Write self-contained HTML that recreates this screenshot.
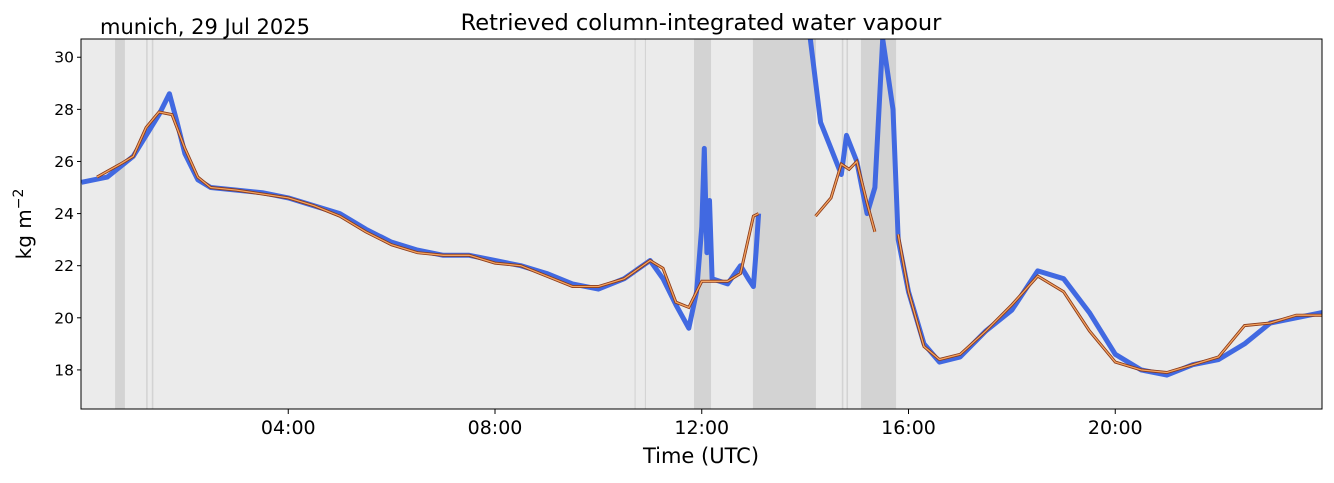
<!DOCTYPE html>
<html><head><meta charset="utf-8"><style>
body{margin:0;background:#fff;}
svg text{font-family:"DejaVu Sans","Liberation Sans",sans-serif;}
</style></head><body>
<svg id="chart" width="1334" height="478" xmlns="http://www.w3.org/2000/svg">
<text x="100" y="34" font-size="21">munich, 29 Jul 2025</text>
<text x="701" y="30" font-size="22.5" text-anchor="middle">Retrieved column-integrated water vapour</text>
<rect x="81" y="39" width="1241" height="370" fill="#ebebeb"/>
<defs><clipPath id="clip"><rect x="81" y="39" width="1241" height="370"/></clipPath></defs>
<g id="bands" clip-path="url(#clip)"></g>
<g id="series" clip-path="url(#clip)"></g>
<rect x="81" y="39" width="1241" height="370" fill="none" stroke="#000" stroke-width="1"/>
<g id="axes"></g>
<text x="701" y="463" font-size="21" text-anchor="middle">Time (UTC)</text>
<text transform="translate(31,224) rotate(-90)" font-size="20" text-anchor="middle">kg m<tspan dy="-8" font-size="14">−2</tspan></text>
</svg>
<script>
const bandStarts=[0.65,1.25,1.36,10.7,10.9,11.85,12.99,14.71,14.8,15.08];
const bandEnds=[0.84,1.28,1.39,10.72,10.92,12.18,14.21,14.74,14.83,15.76];
const blueT=[0,0.5,0.75,1,1.25,1.5,1.7,1.85,2,2.25,2.5,3,3.5,4,4.5,5,5.5,6,6.5,7,7.5,8,8.5,9,9.5,10,10.5,11,11.25,11.5,11.75,11.9,12,12.05,12.1,12.15,12.2,12.5,12.75,12.9,13,13.05,13.1,null,14.1,14.3,14.5,14.7,14.8,15,15.2,15.35,15.5,15.7,15.8,16,16.3,16.6,17,17.5,18,18.5,19,19.5,20,20.5,21,21.5,22,22.5,23,23.5,24];
const blueV=[25.2,25.4,25.8,26.2,27.0,27.8,28.6,27.5,26.3,25.3,25.0,24.9,24.8,24.6,24.3,24.0,23.4,22.9,22.6,22.4,22.4,22.2,22.0,21.7,21.3,21.1,21.5,22.2,21.5,20.5,19.6,21.0,23.5,26.5,22.5,24.5,21.5,21.3,22,21.5,21.2,22.5,24.0,null,30.7,27.5,26.5,25.5,27,26,24,25,30.7,28,23,21,19,18.3,18.5,19.5,20.3,21.8,21.5,20.2,18.6,18.0,17.8,18.2,18.4,19.0,19.8,20.0,20.2];
const orangeT=[0.3,0.75,1,1.25,1.5,1.75,2,2.25,2.5,3,4,4.5,5,5.5,6,6.5,7,7.5,8,8.5,9,9.5,10,10.5,11,11.25,11.5,11.75,12,12.5,12.75,13,13.1,null,14.2,14.5,14.7,14.85,15,15.2,15.35,null,15.8,16,16.3,16.6,17,17.5,18,18.5,19,19.5,20,20.5,21,21.5,22,22.5,23,23.5,24];
const orangeV=[25.4,25.9,26.2,27.3,27.9,27.8,26.5,25.4,25.0,24.9,24.6,24.3,23.9,23.3,22.8,22.5,22.4,22.4,22.1,22.0,21.6,21.2,21.2,21.5,22.2,21.9,20.6,20.4,21.4,21.4,21.7,23.9,24.0,null,23.9,24.6,25.9,25.7,26.0,24.4,23.3,null,23.2,21.0,18.9,18.4,18.6,19.5,20.5,21.6,21.0,19.5,18.3,18.0,17.9,18.2,18.5,19.7,19.8,20.1,20.1];
const yTicks=[18,20,22,24,26,28,30];
const xTicks=[4,8,12,16,20];
const xTickLabels=["04:00","08:00","12:00","16:00","20:00"];
const X=h=>81.5+h*(1240.5/24);
const Y=v=>409-(v-16.5)*(370/14.2);
const NS="http://www.w3.org/2000/svg";
function mk(tag,attrs,parent){const e=document.createElementNS(NS,tag);for(const k in attrs)e.setAttribute(k,attrs[k]);document.getElementById(parent).appendChild(e);return e;}
bandStarts.forEach((s,i)=>{
 const r=mk('rect',{x:X(s),y:39,width:Math.max(1,X(bandEnds[i])-X(s)),height:370,fill:'#d3d3d3'},'bands');
 
 
});
function paths(T,V){let segs=[],cur=[];T.forEach((t,i)=>{if(t===null||V[i]===null){if(cur.length)segs.push(cur);cur=[];}else cur.push(X(t).toFixed(1)+','+Y(V[i]).toFixed(1));});if(cur.length)segs.push(cur);return segs.map(s=>'M'+s.join('L')).join(' ');}
const b=mk('path',{d:paths(blueT,blueV),fill:'none',stroke:'#4169e1','stroke-width':5,'stroke-linejoin':'round'},'series');


const o1=mk('path',{d:paths(orangeT,orangeV),fill:'none',stroke:'#8b3a1a','stroke-width':3},'series');


const o2=mk('path',{d:paths(orangeT,orangeV),fill:'none',stroke:'#f4a460','stroke-width':1.3},'series');


yTicks.forEach(v=>{
 const l=mk('line',{x1:77,x2:81,y1:Y(v),y2:Y(v),stroke:'#000'},'axes');
 
 
 const t=mk('text',{x:74,y:Y(v)+5.5,'font-size':15.5,'text-anchor':'end'},'axes');
 t.textContent=v;
 
 
});
xTicks.forEach((h,i)=>{
 const l=mk('line',{x1:X(h),x2:X(h),y1:409,y2:414,stroke:'#000'},'axes');
 
 
 const t=mk('text',{x:X(h),y:434,'font-size':19,'text-anchor':'middle'},'axes');
 t.textContent=xTickLabels[i];
 
 
});
</script>
</body></html>
